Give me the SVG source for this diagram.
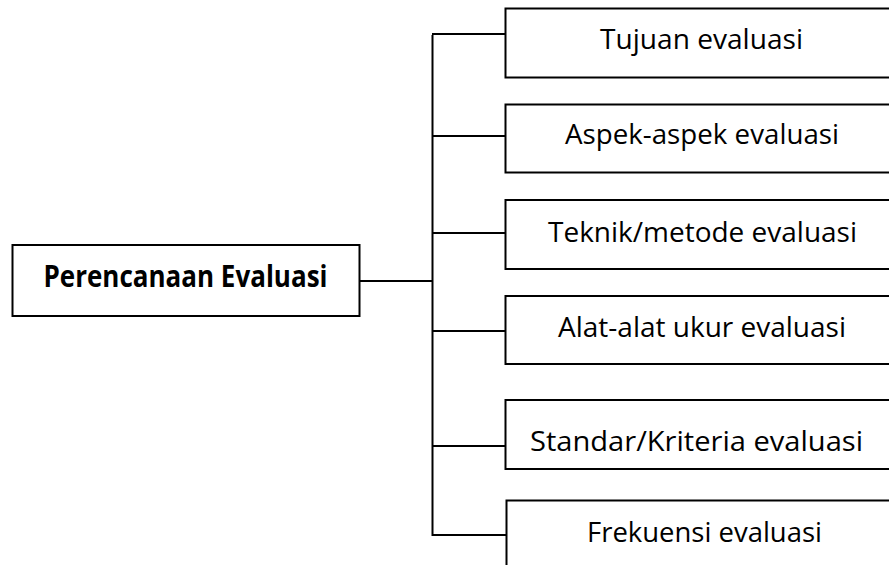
<svg xmlns="http://www.w3.org/2000/svg" width="889" height="565" viewBox="0 0 889 565">
  <style>
    .box { fill: #ffffff; stroke: #000000; stroke-width: 2; }
    .wire { fill: none; stroke: #000000; stroke-width: 2; }
    .label { font-family: "Open Sans", "Noto Sans", sans-serif; font-size: 27px; fill: #000000; text-anchor: middle; }
    .title { font-weight: bold; font-size: 29.5px; }
  </style>

  <!-- connectors: trunk, root link and one branch per item -->
  <g id="connectors">
    <path class="wire" d="M432.5 35 V536"/>
    <path class="wire" d="M360 281 H433"/>
    <path class="wire" d="M432 34 H506"/>
    <path class="wire" d="M432 136 H506"/>
    <path class="wire" d="M432 233 H506"/>
    <path class="wire" d="M432 331 H506"/>
    <path class="wire" d="M432 446 H506"/>
    <path class="wire" d="M432 535 H507"/>
  </g>

  <g id="root">
    <rect class="box" x="12.5" y="245" width="347" height="71"/>
    <text class="label title" x="185.5" y="287" textLength="284" lengthAdjust="spacingAndGlyphs">Perencanaan Evaluasi</text>
  </g>

  <g id="tujuan">
    <rect class="box" x="505.5" y="8.5" width="400" height="69"/>
    <text class="label" x="701.5" y="48.5" textLength="203" lengthAdjust="spacingAndGlyphs">Tujuan evaluasi</text>
  </g>

  <g id="aspek">
    <rect class="box" x="505.5" y="104.5" width="400" height="68"/>
    <text class="label" x="702" y="144" textLength="274" lengthAdjust="spacingAndGlyphs">Aspek-aspek evaluasi</text>
  </g>

  <g id="teknik">
    <rect class="box" x="505.5" y="200" width="400" height="69"/>
    <text class="label" x="702.5" y="241.5" textLength="309" lengthAdjust="spacingAndGlyphs">Teknik/metode evaluasi</text>
  </g>

  <g id="alat">
    <rect class="box" x="505.5" y="296" width="400" height="68"/>
    <text class="label" x="702" y="337" textLength="288" lengthAdjust="spacingAndGlyphs">Alat-alat ukur evaluasi</text>
  </g>

  <g id="standar">
    <rect class="box" x="505.5" y="400" width="400" height="69"/>
    <text class="label" x="696.5" y="450.5" textLength="333" lengthAdjust="spacingAndGlyphs">Standar/Kriteria evaluasi</text>
  </g>

  <g id="frekuensi">
    <rect class="box" x="506.5" y="500.5" width="400" height="80"/>
    <text class="label" x="704.5" y="541.5" textLength="235" lengthAdjust="spacingAndGlyphs">Frekuensi evaluasi</text>
  </g>
</svg>
